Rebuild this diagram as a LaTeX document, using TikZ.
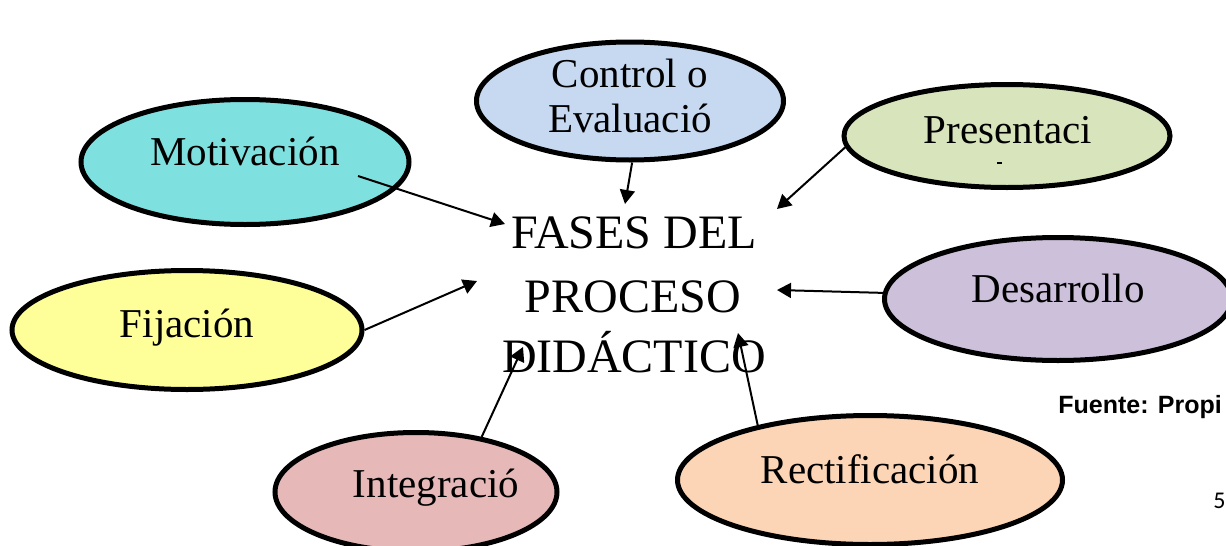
\documentclass[tikz,border=0pt]{standalone}
\usepackage{fontspec}
\setmainfont{Liberation Serif}
\newfontfamily\arialfont{Liberation Sans}
\newfontfamily\calfont{Carlito}
\usetikzlibrary{shapes.geometric,arrows.meta}
\definecolor{cCtrl}{HTML}{C6D9F0}
\definecolor{cMot}{HTML}{7FE1DF}
\definecolor{cPres}{HTML}{D7E4BC}
\definecolor{cDes}{HTML}{CCC0DA}
\definecolor{cFij}{HTML}{FFFF99}
\definecolor{cInt}{HTML}{E6B9B8}
\definecolor{cRect}{HTML}{FBD5B5}
\tikzset{
  phase/.style={ellipse, draw=black, line width=2.5pt, inner sep=0pt},
  lbl/.style={anchor=base, inner sep=0pt, font=\fontsize{20.5}{22}\selectfont},
  big/.style={anchor=base, inner sep=0pt, font=\fontsize{24}{31}\selectfont},
  arr/.style={line width=1pt, -{Triangle[length=7pt,width=7.5pt]}}
}
\begin{document}
\begin{tikzpicture}[x=0.5pt,y=-0.5pt]
\clip (0,0) rectangle (1226,546);
\fill[white] (0,0) rectangle (1226,546);
% ellipses
\node[phase, fill=cCtrl, minimum width=153.5pt, minimum height=59pt] (ctrl) at (630,101) {};
\node[phase, fill=cMot, minimum width=164pt, minimum height=62.5pt] (mot) at (245,162) {};
\node[phase, fill=cPres, minimum width=163pt, minimum height=51.5pt] (pres) at (1007,136) {};
\node[phase, fill=cDes, minimum width=173.5pt, minimum height=61.5pt] (des) at (1058,299) {};
\node[phase, fill=cFij, minimum width=175pt, minimum height=59.5pt] (fij) at (187,330) {};
\node[phase, fill=cInt, minimum width=141pt, minimum height=59.5pt] (int) at (416,492) {};
\node[phase, fill=cRect, minimum width=192.5pt, minimum height=64.5pt] (rect) at (870,480) {};
% labels
\node[lbl] (ctrlA) at (630,87) {Control o};
\node[lbl] (ctrlB) at (630,132) {Evaluació};
\node[lbl] (motT) at (245,165) {Motivación};
\node[lbl] (presT) at (1008,143) {Presentaci};
\draw[line width=1pt] (997,163) -- (1002,163);
\node[lbl] (desT) at (1058,302) {Desarrollo};
\node[lbl] (fijT) at (187,337) {Fijación};
\node[lbl] (intT) at (436,497) {Integració};
\node[lbl] (rectT) at (870,483) {Rectificación};
% centre
\node[big] (c1) at (634,248) {FASES DEL};
\node[big] (c2) at (633,312) {PROCESO};
\node[big] (c3) at (634,372) {DIDÁCTICO};
% connector ends
\coordinate (tCtrl) at (625,204);
\coordinate (tPres) at (777,209);
\coordinate (sMot) at (358,176);
\coordinate (tMot) at (505,224);
\coordinate (tDes) at (777,290);
\coordinate (tFij) at (477,281);
\coordinate (tInt) at (523,347);
\coordinate (tRect) at (738,333);
\draw[arr] (ctrl.272) -- (tCtrl);
\draw[arr] (pres.184) -- (tPres);
\draw[arr] (sMot) -- (tMot);
\draw[arr] (des.178) -- (tDes);
\draw[arr] (fij.east) -- (tFij);
\draw[arr] (int.40) -- (tInt);
\draw[arr] (rect.154) -- (tRect);
% source text
\node[anchor=base west, inner sep=0pt, font=\arialfont\bfseries\fontsize{12.5}{14}\selectfont] (src) at (1058,413) {Fuente: Propi};
\node[anchor=base west, inner sep=0pt, font=\calfont\fontsize{12}{14}\selectfont] (pg) at (1213,508) {5};
\end{tikzpicture}
\end{document}
